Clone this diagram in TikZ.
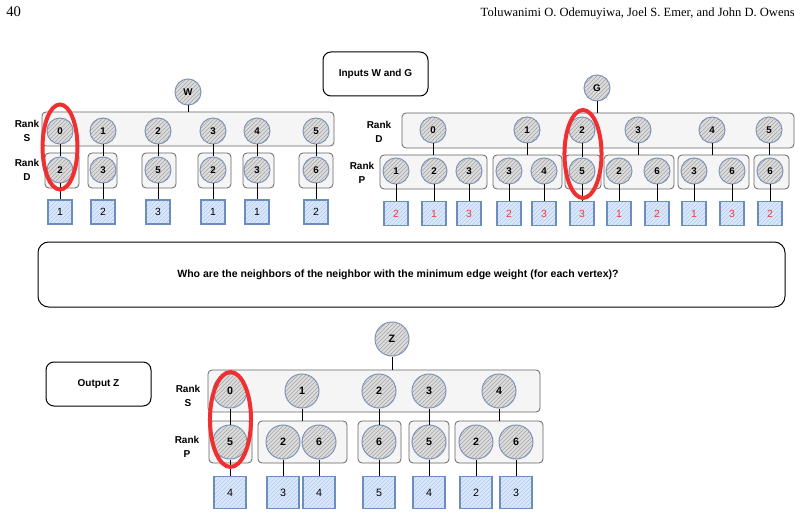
\documentclass[tikz,border=0pt]{standalone}
\usepackage{fontspec}
\usetikzlibrary{patterns,fit,shapes.geometric}
\newfontfamily\hsans{Liberation Sans}
\newfontfamily\hserif{Liberation Serif}
\definecolor{cfill}{HTML}{DCDCDC}
\definecolor{chatch}{HTML}{A6A6A6}
\definecolor{cstroke}{HTML}{7E95BC}
\definecolor{sfill}{HTML}{DAE8FC}
\definecolor{shatch}{HTML}{B4CBEC}
\definecolor{sstroke}{HTML}{6C8EBF}
\definecolor{gfill}{HTML}{F5F5F5}
\definecolor{gstroke}{HTML}{666666}
\definecolor{hred}{HTML}{F03030}
\definecolor{tred}{HTML}{FF3333}
\begin{document}
\begin{tikzpicture}[x=0.75pt,y=-0.75pt,
 cir/.style={circle, draw=cstroke, line width=0.75pt, preaction={fill=cfill}, pattern=north east lines, pattern color=chatch, minimum size=19.5pt, inner sep=0pt, font=\hsans\bfseries\fontsize{7.3}{8}\selectfont},
 bcir/.style={cir, minimum size=25.5pt, font=\hsans\bfseries\fontsize{8}{9}\selectfont},
 sq/.style={rectangle, draw=sstroke, line width=0.9pt, preaction={fill=sfill}, pattern=north east lines, pattern color=shatch, minimum size=18pt, inner sep=0pt, font=\hsans\fontsize{7.8}{8}\selectfont},
 bsq/.style={sq, minimum size=24pt, font=\hsans\fontsize{8}{9}\selectfont},
 rsq/.style={sq, text=tred},
 grp/.style={draw=gstroke, fill=gfill, line width=0.6pt, rounded corners=3pt, inner sep=0pt},
 lbl/.style={draw=black, line width=0.75pt, rounded corners=6pt, inner sep=0pt},
 rank/.style={align=center, font=\hsans\bfseries\fontsize{7.5}{10}\selectfont},
 con/.style={draw=black, line width=0.75pt},
 hl/.style={draw=hred, line width=3pt},
 ttl/.style={font=\hsans\bfseries\fontsize{7.5}{9}\selectfont},
]
\useasboundingbox (0,0) rectangle (801,517);
\fill[white] (0,0) rectangle (801,517);

% header
\node[anchor=base west, font=\hserif\fontsize{11}{13}\selectfont, inner sep=0pt] (pg) at (6,17) {40};
\node[anchor=base east, font=\hserif\fontsize{9.4}{12}\selectfont, inner sep=0pt] (au) at (795,17) {Toluwanimi O. Odemuyiwa, Joel S. Emer, and John D. Owens};

% ---------- Top left (W) ----------
\node[grp, fit={(42,112) (334,146)}] (bS) {};
\node[grp, fit={(45,153) (79,188)}] (bD0) {};
\node[grp, fit={(88,153) (117,188)}] (bD1) {};
\node[grp, fit={(142,153) (176,188)}] (bD2) {};
\node[grp, fit={(198,153) (231,188)}] (bD3) {};
\node[grp, fit={(243,153) (274,188)}] (bD4) {};
\node[grp, fit={(299,153) (333,188)}] (bD5) {};

\node[cir] (W) at (188,92) {W};
\draw[con] (W) -- (W |- bS.north);

\node[rank] (rS1) at (27,131) {Rank\\S};
\node[rank] (rD1) at (27,170) {Rank\\D};

\foreach \x/\a/\b/\c [count=\i from 0] in {60/0/2/1, 103/1/3/2, 158/2/5/3, 213/3/2/1, 257/4/3/1, 316/5/6/2}{
  \node[cir] (ws\i) at (\x,131) {\a};
  \node[cir] (wd\i) at (\x,170) {\b};
  \node[sq] (wq\i) at (\x,212) {\c};
  \draw[con] (ws\i) -- (wd\i);
  \draw[con] (wd\i) -- (wq\i);
}

% ---------- Inputs label ----------
\node[lbl, ttl, fit={(323,52) (428,96)}] (inp) {};
\node[ttl] (inpt) at (inp.center) {Inputs W and G};

% ---------- Top right (G) ----------
\node[grp, fit={(402,113) (794,148)}] (gD) {};
\node[grp, fit={(380,155) (487,189)}] (g1) {};
\node[grp, fit={(493,155) (562,189)}] (g2) {};
\node[grp, fit={(565,155) (601,189)}] (g3) {};
\node[grp, fit={(604,155) (674,189)}] (g4) {};
\node[grp, fit={(678,155) (749,189)}] (g5) {};
\node[grp, fit={(754,155) (789,189)}] (g6) {};

\node[cir] (G) at (597,88) {G};
\draw[con] (G) -- (G |- gD.north);

\node[rank] (rD2) at (379,132) {Rank\\D};
\node[rank] (rP2) at (362,173) {Rank\\P};

\node[cir] (gd0) at (433,130) {0};
\node[cir] (gd1) at (527,130) {1};
\node[cir] (gd2) at (582,130) {2};
\node[cir] (gd3) at (638,130) {3};
\node[cir] (gd4) at (712,130) {4};
\node[cir] (gd5) at (769,130) {5};

\foreach \x/\a/\c [count=\i] in {396/1/2, 434/2/1, 469/3/3, 509/3/2, 544/4/3, 582/5/3, 619/2/1, 657/6/2, 694/3/1, 732/6/3, 770/6/2}{
  \node[cir] (gp\i) at (\x,171) {\a};
  \node[rsq] (gq\i) at (\x,213.5) {\c};
  \draw[con] (gp\i) -- (gq\i);
}
\draw[con] (gd0) -- (gd0 |- g1.north);
\draw[con] (gd1) -- (gd1 |- g2.north);
\draw[con] (gd2) -- (gp6);
\draw[con] (gd3) -- (gd3 |- g4.north);
\draw[con] (gd4) -- (gd4 |- g5.north);
\draw[con] (gd5) -- (gd5 |- g6.north);

% ---------- Question ----------
\node[lbl, fit={(38,242) (785,307)}, rounded corners=8pt] (q) {};
\node[font=\hsans\bfseries\fontsize{7.9}{9}\selectfont] (qt) at (398,275) {Who are the neighbors of the neighbor with the minimum edge weight (for each vertex)?};

% ---------- Bottom (Z) ----------
\node[lbl, fit={(46,362) (151,406)}] (out) {};
\node[ttl] (outt) at (out.center) {Output Z};

\node[grp, fit={(208,370) (540,412)}] (zS) {};
\node[grp, fit={(209,421) (252,463)}] (h1) {};
\node[grp, fit={(258,421) (347,463)}] (h2) {};
\node[grp, fit={(358,421) (401,463)}] (h3) {};
\node[grp, fit={(409,421) (449,463)}] (h4) {};
\node[grp, fit={(455,421) (543,463)}] (h5) {};

\node[bcir] (Z) at (392,339) {Z};
\draw[con] (Z) -- (Z |- zS.north);

\node[rank] (rS3) at (188,396) {Rank\\S};
\node[rank] (rP3) at (187,447) {Rank\\P};

\node[bcir] (zs0) at (230,391) {0};
\node[bcir] (zs1) at (302,391) {1};
\node[bcir] (zs2) at (379,391) {2};
\node[bcir] (zs3) at (429,391) {3};
\node[bcir] (zs4) at (499,391) {4};

\foreach \x/\a/\c [count=\i] in {230/5/4, 283/2/3, 319/6/4, 379/6/5, 429/5/4, 476/2/2, 516/6/3}{
  \node[bcir] (zp\i) at (\x,442) {\a};
  \node[bsq] (zq\i) at (\x,492.5) {\c};
  \draw[con] (zp\i) -- (zq\i);
}
\draw[con] (zs0) -- (zp1);
\draw[con] (zs1) -- (zs1 |- h2.north);
\draw[con] (zs2) -- (zp4);
\draw[con] (zs3) -- (zp5);
\draw[con] (zs4) -- (zs4 |- h5.north);

% ---------- highlights ----------
\draw[hl] (60,147) ellipse [x radius=13.1pt, y radius=31.9pt];
\draw[hl] (583,154) ellipse [x radius=13.9pt, y radius=33pt];
\draw[hl] (230.5,419.5) ellipse [x radius=15.4pt, y radius=35.6pt];
\end{tikzpicture}
\end{document}
